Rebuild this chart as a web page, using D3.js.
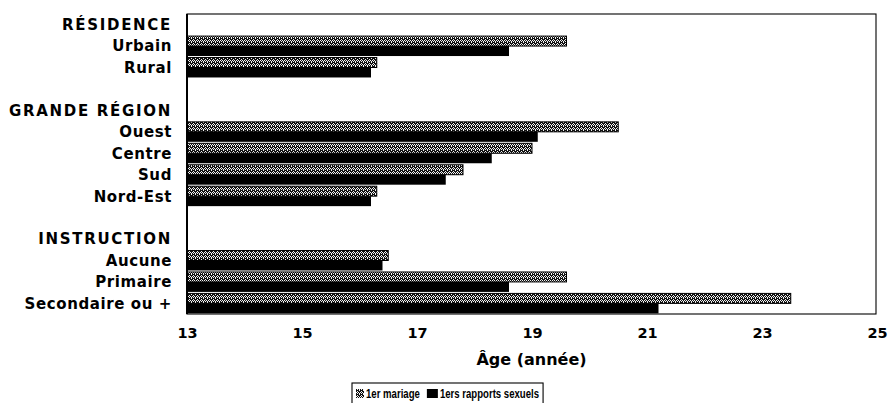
<!DOCTYPE html>
<html>
<head>
<meta charset="utf-8">
<script src="https://cdn.jsdelivr.net/npm/d3@7"></script>
<style>
  html, body { margin: 0; padding: 0; background: #fff; }
  svg { display: block; }
</style>
</head>
<body>
<svg id="chart" width="889" height="403"></svg>
<script>
// ---- data ----
const groups = ["RÉSIDENCE", "GRANDE RÉGION", "INSTRUCTION"];
const categories = ["Urbain", "Rural", "Ouest", "Centre", "Sud", "Nord-Est", "Aucune", "Primaire", "Secondaire ou +"];
const categoryGroup = ["RÉSIDENCE", "RÉSIDENCE", "GRANDE RÉGION", "GRANDE RÉGION", "GRANDE RÉGION", "GRANDE RÉGION", "INSTRUCTION", "INSTRUCTION", "INSTRUCTION"];
const premierMariage = [19.6, 16.3, 20.5, 19.0, 17.8, 16.3, 16.5, 19.6, 23.5];
const premiersRapports = [18.6, 16.2, 19.1, 18.3, 17.5, 16.2, 16.4, 18.6, 21.2];
const seriesNames = ["1er mariage", "1ers rapports sexuels"];
const xTicks = [13, 15, 17, 19, 21, 23, 25];
const xDomain = [13, 25];
const axisTitle = "Âge (année)";

(function () {
// ---- build rows (header, categories, spacer) ----
const rows = [];
groups.forEach((g, gi) => {
  if (gi > 0) rows.push({ key: "sp" + gi, type: "spacer", label: "" });
  rows.push({ key: "h" + gi, type: "header", label: g });
  categories.forEach((c, i) => {
    if (categoryGroup[i] === g) rows.push({ key: "c" + i, type: "cat", label: c, idx: i });
  });
});

const svg = d3.select("#chart");
const pL = 187, pR = 876, pT = 14, pB = 314;

const x = d3.scaleLinear().domain(xDomain).range([pL, 877]);
const y = d3.scaleBand().domain(rows.map(r => r.key)).range([pT, pB]).paddingInner(0.07).paddingOuter(0.03);
const ySub = d3.scaleBand().domain(["m", "r"]).range([0, y.bandwidth()]);

// halftone pattern for 1er mariage
const defs = svg.append("defs");
const pat = defs.append("pattern").attr("id", "hatch").attr("patternUnits", "userSpaceOnUse")
  .attr("width", 4).attr("height", 4);
pat.append("rect").attr("width", 4).attr("height", 4).attr("fill", "#111");
[[0, 0], [2, 0], [1, 1], [3, 1], [3, 2], [1, 3]].forEach(([px, py]) => {
  pat.append("rect").attr("x", px).attr("y", py).attr("width", 1).attr("height", 1).attr("fill", "#f4f4f4");
});

// bars
const catRows = rows.filter(r => r.type === "cat");
svg.append("g").selectAll("rect").data(catRows).join("rect")
  .attr("x", x(xDomain[0]))
  .attr("y", d => y(d.key) + ySub("m"))
  .attr("width", d => x(premierMariage[d.idx]) - x(xDomain[0]))
  .attr("height", ySub.bandwidth())
  .attr("fill", "url(#hatch)")
  .attr("stroke", "#000").attr("stroke-width", 1);

svg.append("g").selectAll("rect").data(catRows).join("rect")
  .attr("x", x(xDomain[0]))
  .attr("y", d => y(d.key) + ySub("r"))
  .attr("width", d => x(premiersRapports[d.idx]) - x(xDomain[0]))
  .attr("height", ySub.bandwidth())
  .attr("fill", "#000");

// frame
svg.append("rect").attr("x", pL).attr("y", pT).attr("width", pR - pL).attr("height", pB - pT)
  .attr("fill", "none").attr("stroke", "#000").attr("stroke-width", 1.1);
svg.append("line").attr("x1", pL).attr("x2", pL).attr("y1", pT).attr("y2", pB)
  .attr("stroke", "#000").attr("stroke-width", 2);

// row labels
svg.append("g").selectAll("text").data(rows.filter(r => r.type !== "spacer")).join("text")
  .attr("x", 172)
  .attr("y", d => y(d.key) + y.bandwidth() / 2)
  .attr("dy", "0.36em")
  .attr("text-anchor", "end")
  .attr("font-family", "DejaVu Sans")
  .attr("font-weight", "bold")
  .attr("font-size", 15)
  .attr("letter-spacing", d => d.type === "header" ? 1.7 : 0.6)
  .attr("fill", "#000")
  .text(d => d.label);

// x axis
const xAxis = d3.axisBottom(x).tickValues(xTicks).tickSize(0).tickPadding(0).tickFormat(d3.format("d"));
const gx = svg.append("g").attr("transform", `translate(0, 328)`).call(xAxis);
gx.select(".domain").remove();
gx.selectAll("text").attr("font-family", "DejaVu Sans").attr("font-weight", "bold")
  .attr("font-size", 14.5).attr("fill", "#000");

// axis title
svg.append("text").attr("x", (pL + pR) / 2).attr("y", 365)
  .attr("text-anchor", "middle")
  .attr("font-family", "DejaVu Sans").attr("font-weight", "bold").attr("font-size", 16)
  .attr("fill", "#000").text(axisTitle);

// legend
const lg = svg.append("g");
const lx = 352, ly = 383;
const squeeze = 0.8;
const box = lg.append("rect").attr("x", lx).attr("y", ly).attr("height", 30).attr("fill", "#fff")
  .attr("stroke", "#000").attr("stroke-width", 1.1);
let cx = lx + 4;
seriesNames.forEach((name, i) => {
  const sw = i === 0 ? 8 : 11;
  lg.append("rect").attr("x", cx).attr("y", ly + 6).attr("width", sw).attr("height", 9)
    .attr("fill", i === 0 ? "url(#hatch)" : "#000");
  cx += sw + 2;
  const t = lg.append("text")
    .attr("transform", `translate(${cx},${ly + 10.5}) scale(${squeeze},1)`)
    .attr("dy", "0.36em")
    .attr("font-family", "Liberation Sans")
    .attr("font-weight", "bold").attr("font-size", 12)
    .attr("fill", "#000").text(name);
  cx += t.node().getComputedTextLength() * squeeze + 7;
});
box.attr("width", cx - lx - 3);
})();
</script>
</body>
</html>
